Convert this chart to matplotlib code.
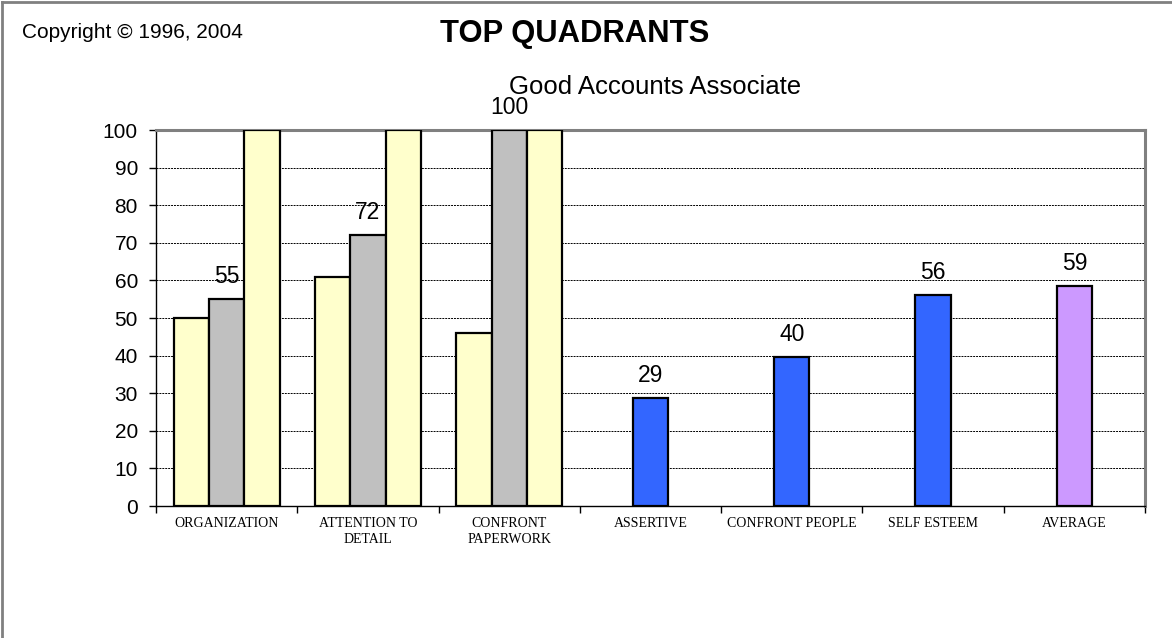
import matplotlib
matplotlib.use("Agg")
import matplotlib.pyplot as plt
from matplotlib.lines import Line2D
import numpy as np

categories = ["ORGANIZATION", "ATTENTION TO\nDETAIL", "CONFRONT\nPAPERWORK",
              "ASSERTIVE", "CONFRONT PEOPLE", "SELF ESTEEM", "AVERAGE"]
# grouped categories (three bars each)
group_low = [50, 61, 46]
group_score = [55, 72, 100]
group_high = [100, 100, 100]
# single-bar categories
single_values = [28.6, 39.6, 56.2, 58.6]
single_colors = ["#3366FF", "#3366FF", "#3366FF", "#CC99FF"]
yticks = list(range(0, 101, 10))

W, H = 1172, 638
fig = plt.figure(figsize=(W / 100, H / 100), dpi=100)
ax = fig.add_axes([156 / W, 1 - 506 / H, (1145 - 156) / W, (506 - 130) / H])

bw = 0.25
yellow = "#FFFFCC"
gray = "#C0C0C0"
edge = dict(edgecolor="black", linewidth=1.6, zorder=3)
xg = np.arange(len(group_low)) + 0.5
ax.bar(xg - bw, group_low, bw, color=yellow, **edge)
ax.bar(xg, group_score, bw, color=gray, **edge)
ax.bar(xg + bw, group_high, bw, color=yellow, **edge)
xs = np.arange(len(group_low), len(categories)) + 0.5
ax.bar(xs, single_values, bw, color=single_colors, **edge)

lab_font = dict(family="Liberation Sans", fontsize=16.5, color="black")
for x, v in zip(xg, group_score):
    ax.annotate(f"{v:.0f}", (x, v), xytext=(0, 8), textcoords="offset points",
                ha="center", va="bottom", annotation_clip=False, **lab_font)
for x, v in zip(xs, single_values):
    ax.annotate(f"{v:.0f}", (x, v), xytext=(0, 8), textcoords="offset points",
                ha="center", va="bottom", annotation_clip=False, **lab_font)

ax.set_xlim(0, len(categories))
ax.set_ylim(0, 100)
ax.set_yticks(yticks)
ax.set_yticklabels([str(t) for t in yticks], family="Liberation Sans", fontsize=15)
ax.set_xticks(np.arange(len(categories) + 1))
ax.set_xticklabels([])
ax.set_xticks(np.arange(len(categories)) + 0.5, minor=True)
ax.set_xticklabels(categories, minor=True, family="Liberation Serif", fontsize=10,
                   linespacing=1.25, va="top")
ax.tick_params(axis="x", which="minor", length=0, pad=8)
ax.tick_params(axis="x", which="major", length=5, width=1, direction="out")
ax.tick_params(axis="y", length=5, width=1, direction="out", pad=8)

ax.yaxis.grid(True, linestyle=(0, (2, 1)), color="black", linewidth=0.7, zorder=0)
ax.set_axisbelow(True)
for s in ["top", "right"]:
    ax.spines[s].set_color("#808080")
    ax.spines[s].set_linewidth(2.2)
ax.spines["left"].set_color("black")
ax.spines["left"].set_linewidth(1.0)
ax.spines["bottom"].set_color("black")
ax.spines["bottom"].set_linewidth(1.0)

fig.text(22 / W, 1 - 33 / H, "Copyright © 1996, 2004", family="Liberation Sans",
         fontsize=15, ha="left", va="center")
fig.text(575 / W, 1 - 34 / H, "TOP QUADRANTS", family="Liberation Sans",
         fontsize=22.3, fontweight="bold", ha="center", va="center")
fig.text(655 / W, 1 - 87 / H, "Good Accounts Associate", family="Liberation Sans",
         fontsize=18.5, ha="center", va="center")

# outer frame (left and top edges visible)
fig.add_artist(Line2D([1.5 / W, 1.5 / W], [0, 1 - 2 / H], color="#808080", linewidth=2))
fig.add_artist(Line2D([1.5 / W, 1], [1 - 2 / H, 1 - 2 / H], color="#808080", linewidth=2))

fig.savefig("out.png", dpi=100)
